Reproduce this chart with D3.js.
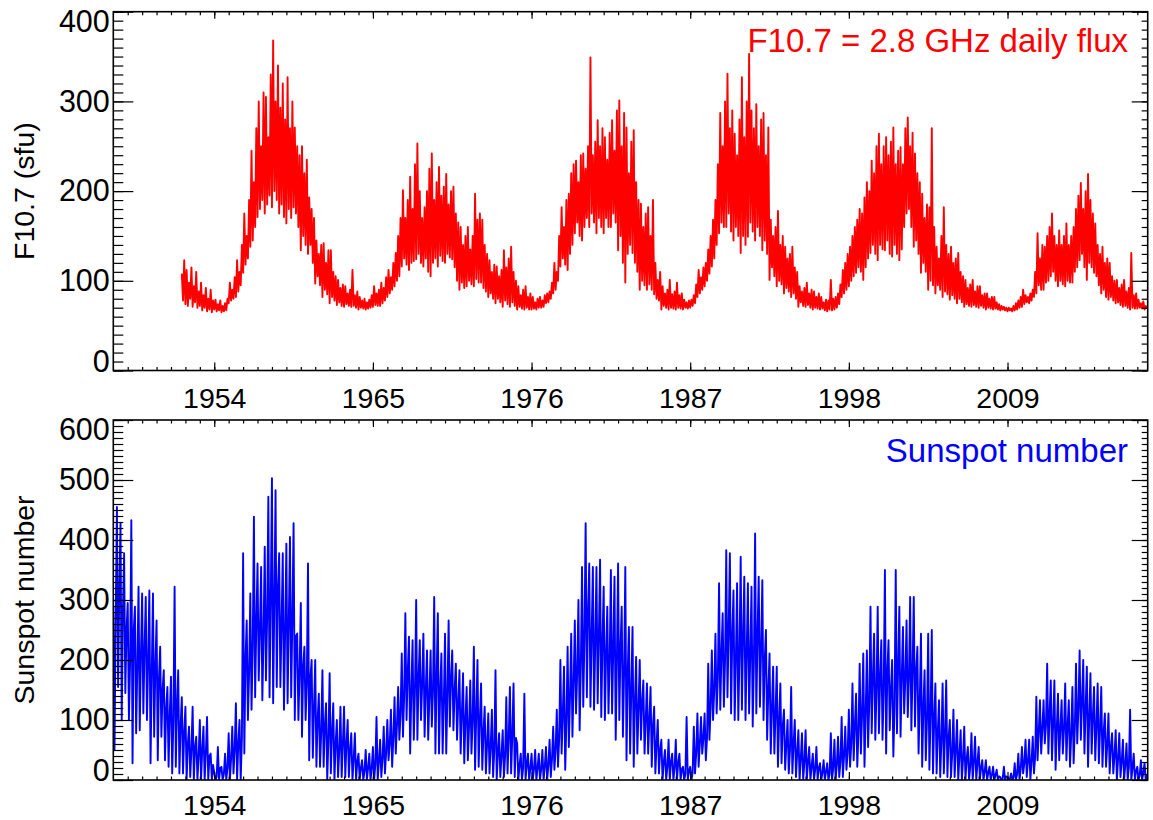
<!DOCTYPE html>
<html>
<head>
<meta charset="utf-8">
<script src="https://cdn.jsdelivr.net/npm/d3@7"></script>
<style>
  body { margin: 0; background: #fff; }
</style>
</head>
<body>
<script>
// canvas size
var width = 1153
var height = 820

// time axis (decimal years)
const X_MIN = 1947.0, X_MAX = 2018.72;
const yearTicks = [1954, 1965, 1976, 1987, 1998, 2009];
const STEP = 1 / 12; // one value every month slot

// F10.7 flux (sfu), starts 1951.75
const f107Start = 1951.75;
const f107Ticks = [0, 100, 200, 300, 400];
const f107Flux = [
  108, 78, 123,
  74, 112, 72, 98, 80, 115, 71, 94, 76, 110, 70, 88,      // 1952
  72, 98, 67, 84, 70, 92, 66, 80, 68, 90, 65, 78,
  68, 79, 66, 74, 67, 78, 65, 72, 66, 75, 67, 80,
  75, 98, 78, 90, 80, 104, 82, 123, 88, 110, 95, 140,
  109, 175, 118, 150, 125, 190, 138, 245, 145, 210, 160, 270, // 1956
  171, 300, 180, 250, 190, 310, 175, 305, 185, 260, 195, 330,
  182, 368, 200, 300, 190, 340, 175, 293, 185, 320, 171, 280,
  164, 327, 180, 270, 170, 300, 182, 271, 175, 250, 160, 240,
  134, 250, 150, 220, 140, 235, 130, 193, 140, 180, 120, 170, // 1960
  97, 145, 105, 130, 95, 140, 82, 142, 90, 120, 85, 134,
  75, 134, 82, 110, 78, 105, 73, 101, 76, 92, 72, 96,
  71, 94, 74, 86, 72, 90, 71, 112, 72, 84, 70, 88,
  68, 82, 70, 78, 69, 80, 68, 76, 69, 79, 70, 84,         // 1964
  71, 94, 73, 86, 72, 90, 72, 98, 75, 92, 78, 104,
  82, 112, 86, 104, 90, 120, 94, 131, 100, 150, 105, 170,
  116, 201, 125, 170, 118, 190, 112, 216, 120, 180, 122, 230,
  124, 253, 130, 200, 120, 170, 116, 182, 125, 200, 110, 225, // 1968
  105, 242, 120, 190, 125, 210, 116, 227, 128, 195, 122, 205,
  120, 219, 130, 185, 126, 200, 124, 205, 115, 175, 100, 165,
  90, 160, 98, 140, 92, 150, 94, 160, 100, 135, 96, 150,
  94, 197, 102, 168, 98, 175, 98, 168, 92, 140, 88, 130,  // 1972
  82, 123, 86, 110, 80, 118, 75, 116, 80, 105, 76, 112,
  71, 134, 78, 115, 74, 125, 71, 138, 76, 110, 72, 100,
  68, 94, 71, 84, 69, 90, 68, 94, 70, 82, 68, 86,
  68, 82, 69, 76, 68, 80, 70, 82, 70, 78, 71, 84,         // 1976
  75, 86, 76, 88, 80, 98, 86, 120, 90, 110, 100, 150,
  116, 182, 125, 160, 118, 190, 112, 197, 130, 220, 140, 230,
  153, 234, 165, 210, 150, 240, 145, 242, 160, 225, 170, 250,
  160, 349, 175, 240, 165, 255, 153, 279, 170, 250, 160, 270, // 1980
  153, 260, 170, 235, 160, 265, 160, 279, 175, 245, 165, 290,
  134, 301, 150, 250, 120, 287, 98, 271, 130, 220, 140, 255,
  131, 268, 120, 210, 110, 190, 90, 186, 100, 160, 95, 175,
  90, 182, 96, 150, 90, 190, 85, 120, 80, 101, 78, 110,   // 1984
  68, 94, 72, 86, 70, 90, 68, 101, 70, 85, 69, 88,
  68, 98, 70, 84, 69, 86, 68, 79, 70, 76, 69, 78,
  70, 79, 72, 84, 75, 96, 82, 112, 86, 104, 90, 115,
  94, 120, 100, 135, 108, 150, 116, 168, 125, 190, 140, 230, // 1988
  153, 287, 165, 250, 160, 300, 160, 331, 175, 270, 155, 290,
  145, 264, 160, 240, 150, 280, 131, 327, 150, 260, 140, 300,
  149, 353, 165, 290, 155, 270, 145, 297, 160, 250, 150, 280,
  134, 287, 145, 240, 130, 271, 101, 168, 115, 150, 105, 160, // 1992
  94, 178, 100, 140, 96, 150, 86, 138, 92, 125, 88, 130,
  82, 138, 86, 115, 80, 110, 71, 94, 76, 88, 72, 92,
  71, 98, 73, 86, 70, 90, 68, 88, 70, 82, 69, 86,
  68, 82, 69, 76, 67, 79, 66, 78, 68, 101, 67, 80,        // 1996
  68, 82, 70, 86, 74, 96, 82, 112, 86, 120, 90, 130,
  94, 138, 100, 150, 105, 160, 109, 168, 115, 180, 110, 175,
  101, 193, 115, 210, 125, 200, 131, 234, 140, 220, 130, 250,
  123, 264, 140, 230, 135, 250, 134, 260, 145, 240, 130, 255, // 2000
  127, 271, 140, 230, 130, 245, 123, 249, 135, 230, 160, 270,
  175, 282, 180, 250, 160, 265, 138, 242, 145, 220, 130, 210,
  109, 197, 120, 170, 110, 185, 90, 182, 100, 270, 95, 160,
  86, 138, 95, 125, 90, 150, 82, 182, 88, 140, 85, 130,   // 2004
  79, 138, 84, 120, 80, 125, 75, 131, 80, 110, 76, 105,
  71, 101, 74, 92, 72, 96, 71, 101, 73, 88, 71, 94,
  70, 94, 72, 84, 70, 86, 68, 86, 70, 80, 69, 82,
  68, 82, 69, 76, 68, 74, 67, 72, 68, 71, 67, 70,         // 2008
  66, 70, 67, 69, 66, 72, 67, 75, 68, 78, 70, 82,
  71, 90, 74, 84, 76, 82, 75, 86, 78, 90, 82, 110,
  86, 153, 95, 125, 90, 140, 90, 138, 98, 150, 100, 160,
  105, 175, 110, 150, 100, 140, 94, 156, 100, 140, 96, 150, // 2012
  94, 164, 100, 140, 98, 150, 98, 160, 110, 180, 115, 195,
  123, 209, 130, 180, 115, 200, 101, 219, 120, 190, 115, 175,
  109, 164, 105, 140, 95, 130, 86, 138, 90, 120, 82, 125,
  79, 120, 82, 105, 78, 100, 75, 101, 76, 92, 73, 96,     // 2016
  71, 101, 72, 88, 70, 92, 68, 131, 70, 84, 69, 86,
  69, 79, 70, 75, 69, 77, 68, 72, 69
];

// sunspot number, starts 1947.0
const ssnStart = 1947.0;
const ssnTicks = [0, 100, 200, 300, 400, 500, 600];
const ssnValues = [
  290, 50, 272, 455, 155, 320, 428, 100, 280, 378, 145, 250,  // 1947
  295, 100, 200, 433, 28, 250, 289, 78, 190, 322, 83, 210,
  311, 111, 220, 305, 100, 200, 316, 28, 180, 311, 72, 190,
  266, 33, 170, 222, 72, 150, 183, 33, 120, 155, 22, 110,     // 1950
  172, 11, 100, 322, 22, 120, 183, 11, 90, 138, 11, 80,
  122, 0, 60, 89, 5, 50, 122, 0, 55, 72, 0, 40,
  100, 0, 50, 89, 0, 45, 105, 0, 40, 44, 0, 25,
  11, 0, 5, 55, 0, 20, 22, 0, 10, 44, 0, 20,                  // 1954
  78, 0, 35, 89, 11, 50, 128, 0, 60, 100, 0, 70,
  378, 44, 200, 266, 100, 180, 311, 117, 220, 439, 138, 260,
  361, 166, 250, 355, 133, 240, 389, 166, 270, 472, 138, 300,
  503, 128, 300, 483, 155, 320, 378, 155, 260, 378, 117, 250, // 1958
  394, 128, 260, 405, 138, 270, 428, 100, 240, 244, 100, 180,
  295, 72, 190, 222, 100, 160, 361, 33, 170, 200, 37, 120,
  200, 22, 100, 144, 22, 80, 183, 22, 90, 128, 0, 70,
  178, 11, 80, 128, 0, 60, 100, 5, 50, 122, 5, 60,            // 1962
  122, 5, 60, 100, 5, 50, 78, 0, 35, 78, 0, 30,
  44, 0, 20, 33, 0, 15, 50, 0, 20, 44, 0, 18,
  55, 0, 25, 105, 0, 30, 67, 5, 35, 89, 11, 45,
  100, 33, 60, 117, 22, 70, 138, 44, 90, 155, 67, 110,        // 1966
  211, 72, 140, 278, 100, 180, 239, 44, 150, 233, 67, 150,
  300, 67, 170, 233, 100, 160, 244, 72, 150, 216, 67, 140,
  216, 89, 150, 305, 44, 170, 278, 44, 150, 211, 44, 130,
  244, 44, 140, 266, 89, 170, 216, 83, 150, 194, 67, 130,     // 1970
  183, 44, 110, 178, 28, 100, 155, 33, 90, 166, 44, 100,
  222, 17, 110, 200, 22, 100, 161, 17, 80, 122, 11, 60,
  111, 11, 55, 117, 5, 50, 183, 0, 45, 78, 5, 40,
  83, 5, 40, 138, 11, 70, 155, 11, 75, 161, 5, 70,            // 1974
  61, 0, 25, 44, 0, 20, 144, 0, 25, 44, 0, 20,
  44, 0, 18, 50, 0, 20, 44, 0, 18, 50, 0, 22,
  55, 0, 25, 67, 5, 35, 89, 17, 50, 117, 22, 70,
  200, 44, 110, 189, 17, 100, 222, 55, 140, 244, 72, 160,     // 1978
  266, 111, 180, 300, 83, 190, 355, 122, 240, 428, 138, 280,
  361, 122, 240, 355, 117, 230, 355, 128, 240, 367, 105, 230,
  322, 100, 210, 289, 111, 200, 350, 111, 220, 339, 67, 200,
  361, 100, 220, 289, 72, 180, 355, 33, 180, 255, 44, 150,    // 1982
  255, 22, 130, 205, 44, 120, 200, 67, 130, 166, 44, 100,
  161, 44, 100, 155, 22, 90, 122, 11, 60, 100, 11, 50,
  67, 0, 30, 50, 0, 22, 67, 0, 30, 44, 0, 20,
  67, 0, 28, 44, 0, 18, 22, 0, 10, 105, 0, 15,                // 1986
  22, 0, 12, 89, 11, 45, 111, 22, 60, 105, 44, 70,
  111, 33, 70, 194, 67, 120, 216, 100, 150, 244, 111, 170,
  328, 117, 210, 278, 122, 200, 383, 138, 250, 378, 111, 240,
  316, 100, 200, 328, 100, 210, 372, 117, 240, 339, 100, 210, // 1990
  328, 111, 210, 322, 89, 200, 411, 111, 240, 339, 122, 220,
  333, 100, 200, 250, 67, 150, 211, 44, 120, 189, 44, 110,
  189, 22, 100, 161, 28, 90, 117, 17, 60, 100, 11, 50,
  155, 11, 60, 100, 5, 45, 83, 0, 35, 78, 0, 30,              // 1994
  83, 0, 30, 55, 0, 22, 44, 0, 18, 55, 0, 20,
  28, 0, 12, 33, 0, 14, 28, 0, 10, 78, 0, 20,
  67, 0, 25, 72, 5, 30, 105, 5, 40, 89, 17, 45,
  117, 22, 60, 161, 33, 90, 144, 22, 80, 194, 44, 110,        // 1998
  211, 22, 110, 216, 55, 130, 289, 78, 170, 244, 67, 150,
  289, 78, 170, 233, 67, 150, 350, 44, 180, 233, 83, 150,
  200, 39, 120, 350, 78, 190, 289, 72, 170, 255, 111, 170,
  266, 105, 170, 305, 83, 180, 305, 89, 180, 222, 44, 130,    // 2002
  244, 22, 120, 183, 33, 100, 244, 17, 110, 250, 11, 100,
  161, 11, 80, 133, 5, 65, 161, 11, 75, 166, 5, 70,
  100, 5, 45, 117, 5, 50, 100, 0, 40, 83, 0, 35,
  89, 0, 35, 55, 0, 22, 78, 0, 30, 72, 0, 28,                 // 2006
  55, 0, 20, 33, 0, 14, 33, 0, 12, 22, 0, 8,
  22, 0, 8, 17, 0, 6, 5, 0, 3, 22, 0, 6,
  5, 0, 2, 11, 0, 4, 28, 0, 10, 44, 0, 18,
  55, 11, 28, 67, 5, 30, 67, 0, 30, 72, 11, 38,               // 2010
  139, 33, 80, 133, 44, 85, 133, 61, 90, 194, 44, 110,
  166, 33, 95, 166, 17, 85, 144, 33, 85, 133, 44, 85,
  161, 33, 90, 133, 22, 75, 155, 28, 85, 194, 61, 120,
  216, 67, 130, 200, 44, 120, 189, 22, 105, 178, 44, 105,     // 2014
  155, 33, 90, 161, 28, 85, 155, 22, 80, 111, 22, 60,
  111, 11, 55, 78, 11, 40, 83, 0, 35, 78, 5, 30,
  67, 0, 25, 61, 0, 22, 117, 0, 20, 44, 0, 15,
  22, 0, 8, 33, 0, 12, 28, 0, 10
];

const FONT = '"Liberation Sans", Arial, Helvetica, sans-serif';

const svg = d3.select("body").append("svg")
  .attr("width", width)
  .attr("height", height)

const left = 113.3, right = 1147.7;
const x = d3.scaleLinear().domain([X_MIN, X_MAX]).range([left, right]);

const panels = [
  { id: "f107", top: 11.7, bottom: 370.5, max: 400, ticks: f107Ticks, start: f107Start,
    values: f107Flux, color: "#ff0000", title: "F10.7 (sfu)", label: "F10.7 = 2.8 GHz daily flux",
    labelY: 51.7, xPad: 17.5 },
  { id: "ssn", top: 420, bottom: 780, max: 600, ticks: ssnTicks, start: ssnStart,
    values: ssnValues, color: "#0000ff", title: "Sunspot number", label: "Sunspot number",
    labelY: 461.7, xPad: 14.5 }
];

panels.forEach(function(p) {
  var y = d3.scaleLinear().domain([0, p.max]).range([p.bottom, p.top]);
  var g = svg.append("g");

  // clip the curve to the plot box
  svg.append("clipPath").attr("id", "clip-" + p.id)
    .append("rect")
    .attr("x", left).attr("y", p.top)
    .attr("width", right - left).attr("height", p.bottom - p.top);

  var line = d3.line()
    .x((d, i) => x(p.start + i * STEP))
    .y(d => y(d));

  g.append("path")
    .datum(p.values)
    .attr("clip-path", "url(#clip-" + p.id + ")")
    .attr("d", line)
    .attr("fill", "none")
    .attr("stroke", p.color)
    .attr("stroke-width", 1.9)
    .attr("stroke-linejoin", "round");

  var minorY = d3.range(0, p.max + 1, 10);
  var minorX = d3.range(1948, 2019, 1);

  function styleAxis(sel, size) {
    sel.select(".domain").remove();
    sel.selectAll("line").attr("stroke", "#000").attr("stroke-width", 1.2);
    sel.attr("font-family", FONT).attr("font-size", size || 28);
    sel.selectAll("text").attr("fill", "#000");
  }

  // left axis: minor then major with labels
  g.append("g").attr("transform", "translate(" + left + ",0)")
    .call(d3.axisLeft(y).tickValues(minorY).tickSizeInner(-10).tickSizeOuter(0).tickFormat(""))
    .call(styleAxis);
  var yl = g.append("g").attr("transform", "translate(" + left + ",0)")
    .call(d3.axisLeft(y).tickValues(p.ticks).tickSizeInner(-20).tickSizeOuter(0).tickPadding(3.5).tickFormat(d3.format("d")))
    .call(styleAxis, 30.5);
  // end labels are pushed inside the box, as the original does
  yl.selectAll(".tick text").attr("y", d => d === 0 ? -9 : (d === p.max ? 10 : 0));

  // right axis, no labels
  g.append("g").attr("transform", "translate(" + right + ",0)")
    .call(d3.axisRight(y).tickValues(minorY).tickSizeInner(-6).tickSizeOuter(0).tickFormat(""))
    .call(styleAxis);
  g.append("g").attr("transform", "translate(" + right + ",0)")
    .call(d3.axisRight(y).tickValues(p.ticks).tickSizeInner(-16).tickSizeOuter(0).tickFormat(""))
    .call(styleAxis);

  // bottom axis with year labels
  g.append("g").attr("transform", "translate(0," + p.bottom + ")")
    .call(d3.axisBottom(x).tickValues(minorX).tickSizeInner(-3.5).tickSizeOuter(0).tickFormat(""))
    .call(styleAxis);
  g.append("g").attr("transform", "translate(0," + p.bottom + ")")
    .call(d3.axisBottom(x).tickValues(yearTicks).tickSizeInner(-8).tickSizeOuter(0).tickPadding(p.xPad).tickFormat(d3.format("d")))
    .call(styleAxis, 28.5);

  // top axis, no labels
  g.append("g").attr("transform", "translate(0," + p.top + ")")
    .call(d3.axisTop(x).tickValues(minorX).tickSizeInner(-3.5).tickSizeOuter(0).tickFormat(""))
    .call(styleAxis);
  g.append("g").attr("transform", "translate(0," + p.top + ")")
    .call(d3.axisTop(x).tickValues(yearTicks).tickSizeInner(-7).tickSizeOuter(0).tickFormat(""))
    .call(styleAxis);

  // frame
  g.append("rect")
    .attr("x", left).attr("y", p.top)
    .attr("width", right - left).attr("height", p.bottom - p.top)
    .attr("fill", "none").attr("stroke", "#000").attr("stroke-width", 1.6);

  // y title
  g.append("text")
    .attr("transform", "translate(33.5," + ((p.top + p.bottom) / 2) + ") rotate(-90)")
    .attr("text-anchor", "middle")
    .attr("font-family", FONT).attr("font-size", 28.5)
    .text(p.title);

  // legend text
  g.append("text")
    .attr("x", 1128).attr("y", p.labelY)
    .attr("text-anchor", "end")
    .attr("font-family", FONT).attr("font-size", 33)
    .attr("fill", p.color)
    .text(p.label);
});
</script>
</body>
</html>
